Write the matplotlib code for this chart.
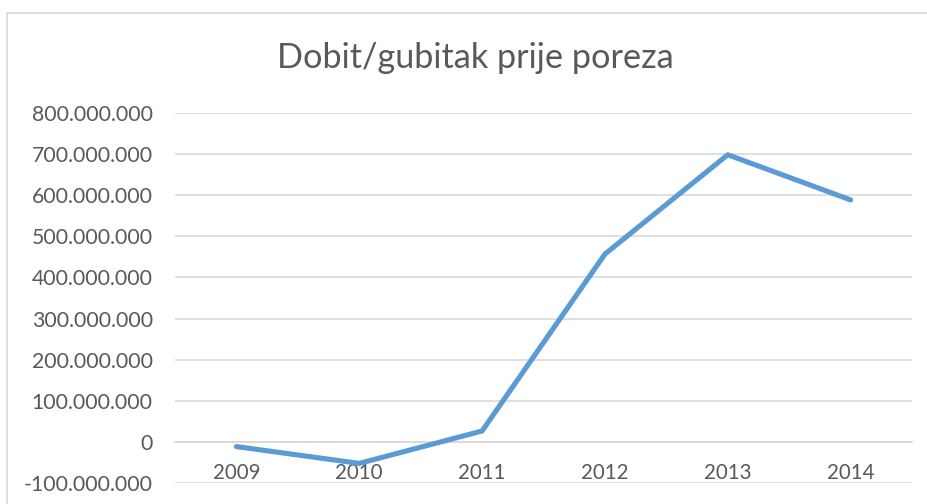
import matplotlib
matplotlib.use("Agg")
import matplotlib.pyplot as plt
from matplotlib.patches import Rectangle
from matplotlib.ticker import FuncFormatter

years = ["2009", "2010", "2011", "2012", "2013", "2014"]
values = [-12e6, -53e6, 26e6, 457e6, 699e6, 589e6]
title = "Dobit/gubitak prije poreza"

plt.rcParams['font.family'] = ['Lato', 'DejaVu Sans']

fig = plt.figure(figsize=(9.28, 5.04), dpi=100)
W, H = 928, 504
ax = fig.add_axes([175 / W, 1 - 482.7 / H, (912 - 175) / W, (482.7 - 113.3) / H])

x = list(range(len(years)))
ax.plot(x, values, color="#5B9BD5", lw=3.7, solid_capstyle="round", solid_joinstyle="round", zorder=3)

ax.set_xlim(-0.5, len(years) - 0.5)
ax.set_ylim(-100e6, 800e6)
ax.set_yticks([i * 100e6 for i in range(-1, 9)])


def fmt(v, pos):
    n = int(round(v))
    s = f"{abs(n):,}".replace(",", ".")
    return ("-" if n < 0 else "") + s


ax.yaxis.set_major_formatter(FuncFormatter(fmt))
ax.grid(axis="y", color="#d9d9d9", lw=1.2)
ax.set_axisbelow(True)
for s in ["top", "right", "left"]:
    ax.spines[s].set_visible(False)
ax.spines["bottom"].set_position(("data", 0))
ax.spines["bottom"].set_color("#d9d9d9")
ax.spines["bottom"].set_linewidth(1.2)
ax.set_xticks(x)
ax.set_xticklabels(years)
ax.tick_params(axis="x", length=0, pad=15.5, labelsize=14.8, labelcolor="#595959")
ax.tick_params(axis="y", length=0, pad=16, labelsize=15.3, labelcolor="#595959")

fig.text(475 / W, 1 - 58 / H, title, ha="center", va="center", fontsize=24.7, color="#595959")

fig.patches.append(Rectangle((7 / W, -0.1), 2, 1 - 13 / H + 0.1, transform=fig.transFigure,
                             fill=False, edgecolor="#d9d9d9", lw=1.2))

fig.savefig("out.png", dpi=100)
